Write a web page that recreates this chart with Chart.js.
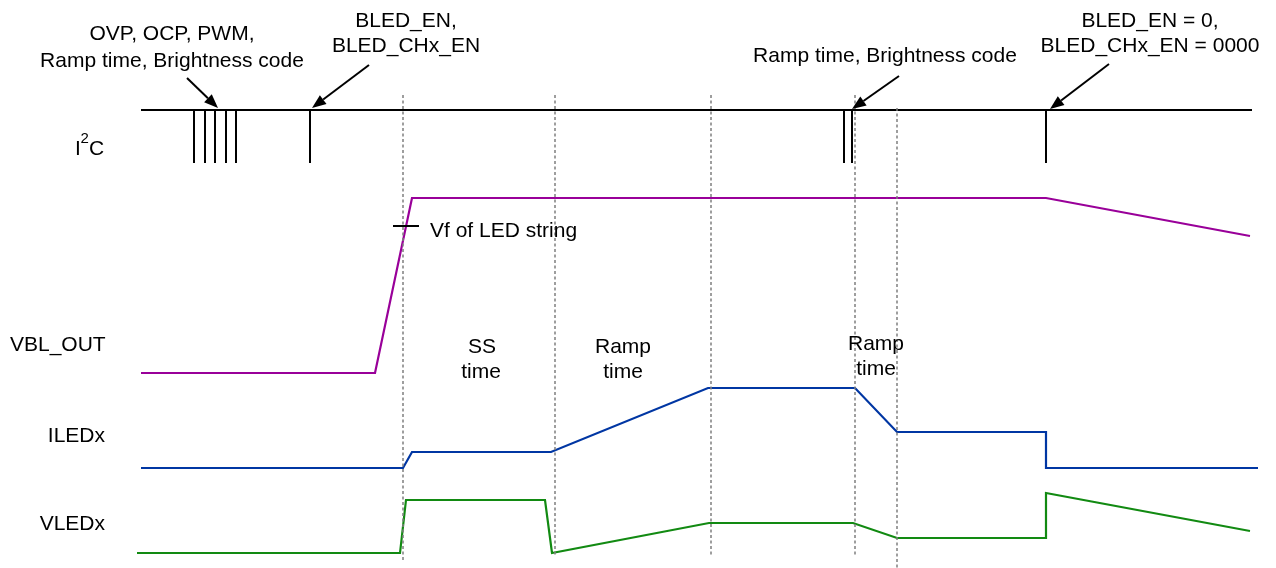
<!DOCTYPE html>
<html>
<head>
<meta charset="utf-8">
<script src="https://cdn.jsdelivr.net/npm/chart.js@4"></script>
<style>
  html, body { margin: 0; padding: 0; background: #fff; }
  #wrap { width: 1276px; height: 568px; position: relative; }
</style>
</head>
<body>
<div id="wrap"><canvas id="chart"></canvas></div>
<script>
// time axis and signal levels are in drawing units (0..1276 wide, 0..568 tall, top down)

// I2C bus: idle level, pulse bottom, and the write pulses
const i2cX = [141, 1252];
const i2cHigh = 110;
const i2cLow = 163;
const i2cPulses = [194, 205, 215, 226, 236, 310, 844, 852, 1046];

// waveform corners
const vblX = [141, 375, 412, 1046, 1250];
const vblY = [373, 373, 198, 198, 236];

const iledX = [141, 403, 412, 551, 708, 855, 897, 1046, 1046, 1258];
const iledY = [468, 468, 452, 452, 388, 388, 432, 432, 468, 468];

const vledX = [137, 400, 406, 545, 552, 709, 853, 897, 1046, 1046, 1250];
const vledY = [553, 553, 500, 500, 553, 523, 523, 538, 538, 493, 531];

// dashed timing markers
const markerX = [403, 555, 711, 855, 897];
const markerTop = [95, 95, 95, 95, 108];
const markerBottom = [560, 555, 555, 555, 568];

// arrows pointing at the I2C writes: [fromX, fromY, toX, toY]
const arrows = [
  [187, 78, 218, 108],
  [369, 65, 312, 108],
  [899, 76, 852, 109],
  [1109, 64, 1050, 109]
];

// text labels
const labels = [
  { text: "OVP, OCP, PWM,", x: 172, y: 33, align: "center" },
  { text: "Ramp time, Brightness code", x: 172, y: 60, align: "center" },
  { text: "BLED_EN,", x: 406, y: 20, align: "center" },
  { text: "BLED_CHx_EN", x: 406, y: 45, align: "center" },
  { text: "Ramp time, Brightness code", x: 885, y: 55, align: "center" },
  { text: "BLED_EN = 0,", x: 1150, y: 20, align: "center" },
  { text: "BLED_CHx_EN = 0000", x: 1150, y: 45, align: "center" },
  { text: "Vf of LED string", x: 430, y: 230, align: "left" },
  { text: "VBL_OUT", x: 10, y: 344, align: "left" },
  { text: "ILEDx", x: 105, y: 435, align: "right" },
  { text: "VLEDx", x: 105, y: 523, align: "right" },
  { text: "SS", x: 482, y: 346, align: "center" },
  { text: "time", x: 481, y: 371, align: "center" },
  { text: "Ramp", x: 623, y: 346, align: "center" },
  { text: "time", x: 623, y: 371, align: "center" },
  { text: "Ramp", x: 876, y: 343, align: "center" },
  { text: "time", x: 876, y: 368, align: "center" }
];

// Vf tick across the VBL_OUT rise
const vfTick = [393, 419, 226];

function pts(xs, ys) {
  return xs.map((x, i) => ({ x: x, y: ys[i] }));
}

function i2cData() {
  const d = [{ x: i2cX[0], y: i2cHigh }, { x: i2cX[1], y: i2cHigh }, { x: i2cX[1], y: null }];
  i2cPulses.forEach(p => {
    d.push({ x: p, y: i2cHigh }, { x: p, y: i2cLow }, { x: p, y: null });
  });
  return d;
}

function markerData() {
  const d = [];
  markerX.forEach((m, i) => {
    d.push({ x: m, y: markerTop[i] }, { x: m, y: markerBottom[i] }, { x: m, y: null });
  });
  return d;
}

const FONT = '"Liberation Sans", Arial, sans-serif';

const annotate = {
  id: "annotate",
  afterDatasetsDraw(chart) {
    const ctx = chart.ctx;
    const sx = chart.scales.x, sy = chart.scales.y;
    const px = v => sx.getPixelForValue(v);
    const py = v => sy.getPixelForValue(v);
    ctx.save();
    ctx.strokeStyle = "#000";
    ctx.fillStyle = "#000";
    ctx.lineWidth = 2;

    arrows.forEach(a => {
      const x0 = px(a[0]), y0 = py(a[1]), x1 = px(a[2]), y1 = py(a[3]);
      const ang = Math.atan2(y1 - y0, x1 - x0);
      const len = 14, half = 5.5;
      const bx = x1 - len * Math.cos(ang), by = y1 - len * Math.sin(ang);
      ctx.beginPath();
      ctx.moveTo(x0, y0);
      ctx.lineTo(bx, by);
      ctx.stroke();
      ctx.beginPath();
      ctx.moveTo(x1, y1);
      ctx.lineTo(bx + half * Math.sin(ang), by - half * Math.cos(ang));
      ctx.lineTo(bx - half * Math.sin(ang), by + half * Math.cos(ang));
      ctx.closePath();
      ctx.fill();
    });

    ctx.lineWidth = 2;
    ctx.beginPath();
    ctx.moveTo(px(vfTick[0]), py(vfTick[2]));
    ctx.lineTo(px(vfTick[1]), py(vfTick[2]));
    ctx.stroke();

    ctx.font = "21px " + FONT;
    ctx.textBaseline = "middle";
    labels.forEach(l => {
      ctx.textAlign = l.align;
      ctx.fillText(l.text, px(l.x), py(l.y) + 1);
    });

    // I²C with raised 2
    ctx.textAlign = "left";
    ctx.fillText("I", px(75), py(149));
    ctx.font = "15px " + FONT;
    ctx.fillText("2", px(80.5), py(139));
    ctx.font = "21px " + FONT;
    ctx.fillText("C", px(89), py(149));
    ctx.restore();
  }
};

new Chart("chart", {
  type: "scatter",
  data: {
    datasets: [{
      label: "markers",
      data: markerData(),
      borderColor: "#7f7f7f",
      borderWidth: 1.5,
      borderDash: [3, 2.5]
    }, {
      label: "I2C",
      data: i2cData(),
      borderColor: "#000000",
      borderWidth: 2
    }, {
      label: "VBL_OUT",
      data: pts(vblX, vblY),
      borderColor: "#990099",
      borderWidth: 2.2
    }, {
      label: "ILEDx",
      data: pts(iledX, iledY),
      borderColor: "#0036a3",
      borderWidth: 2.2
    }, {
      label: "VLEDx",
      data: pts(vledX, vledY),
      borderColor: "#128a12",
      borderWidth: 2.2
    }]
  },
  options: {
    responsive: true,
    maintainAspectRatio: false,
    animation: false,
    events: [],
    showLine: true,
    spanGaps: false,
    layout: { padding: 0 },
    elements: {
      point: { radius: 0 },
      line: { tension: 0, fill: false, borderJoinStyle: "miter" }
    },
    scales: {
      x: { type: "linear", min: 0, max: 1276, display: false },
      y: { type: "linear", min: 0, max: 568, reverse: true, display: false }
    },
    plugins: {
      legend: { display: false },
      tooltip: { enabled: false }
    }
  },
  plugins: [annotate]
});
</script>
</body>
</html>
